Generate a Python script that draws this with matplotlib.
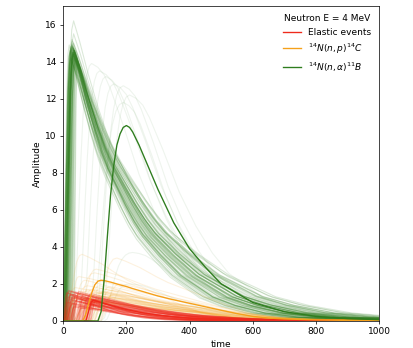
import numpy as np
import matplotlib
matplotlib.use("Agg")
import matplotlib.pyplot as plt

# ---- highlighted pulses ----
green_t = [0, 110, 120, 130, 140, 150, 160, 170, 180, 190, 200, 210, 220, 240, 260, 300, 350, 400, 450, 500, 600, 700, 800, 900, 1000]
green_a = [0, 0, 0.5, 2.3, 4.6, 6.8, 8.4, 9.5, 10.1, 10.45, 10.55, 10.45, 10.2, 9.5, 8.7, 7.1, 5.3, 3.9, 2.9, 2.0, 1.0, 0.5, 0.25, 0.13, 0.07]

orange_t = [0, 62, 70, 80, 90, 100, 110, 120, 130, 150, 180, 200, 220, 260, 300, 340, 380, 420, 460, 500, 550, 600, 650, 700, 800, 900, 1000]
orange_a = [0, 0, 0.3, 0.9, 1.5, 1.95, 2.15, 2.2, 2.18, 2.1, 1.95, 1.86, 1.75, 1.55, 1.35, 1.18, 1.03, 0.88, 0.73, 0.58, 0.4, 0.25, 0.16, 0.11, 0.06, 0.03, 0.02]

red_t = [0, 72, 80, 88, 95, 110, 130, 160, 200, 250, 300, 350, 400, 500, 600, 800, 1000]
red_a = [0, 0, 0.5, 1.0, 1.12, 1.05, 0.95, 0.8, 0.62, 0.45, 0.32, 0.22, 0.15, 0.07, 0.03, 0.01, 0.0]

# ---- pulse shapes (normalised) ----
# slow-rising green pulse (like the highlighted one)
gs_rise_r = [0, 0.11, 0.22, 0.33, 0.44, 0.55, 0.66, 0.77, 0.88, 1.0]
gs_rise_a = [0, 0.05, 0.22, 0.44, 0.64, 0.8, 0.9, 0.96, 0.99, 1.0]
gs_dec_dt = [0, 20, 40, 60, 100, 150, 200, 250, 300, 400, 500, 600, 700, 800]
gs_dec_a = [1.0, 0.985, 0.955, 0.9, 0.76, 0.57, 0.42, 0.3, 0.21, 0.105, 0.055, 0.03, 0.016, 0.008]
# fast-rising green pulse (the main bundle)
gf_rise_r = [0, 0.3, 0.6, 0.8, 1.0]
gf_rise_a = [0, 0.45, 0.85, 0.97, 1.0]
gf_dec_dt = [0, 15, 34, 60, 80, 100, 124, 150, 175, 200, 250, 308, 400, 465, 550, 650, 800, 1000]
gf_dec_a = [1.0, 0.93, 0.83, 0.71, 0.63, 0.565, 0.5, 0.43, 0.37, 0.32, 0.245, 0.17, 0.09, 0.058, 0.03, 0.014, 0.005, 0.0015]

o_rise_r = [0, 0.14, 0.31, 0.48, 0.66, 0.83, 1.0]
o_rise_a = [0, 0.14, 0.41, 0.68, 0.89, 0.98, 1.0]
o_dec_dt = [0, 30, 60, 80, 100, 140, 180, 220, 260, 300, 340, 380, 430, 480, 530, 580, 680, 780, 880]
o_dec_a = [1.0, 0.95, 0.89, 0.85, 0.8, 0.7, 0.61, 0.54, 0.47, 0.4, 0.33, 0.26, 0.18, 0.11, 0.075, 0.05, 0.03, 0.018, 0.01]

r_rise_r = [0, 0.35, 0.7, 1.0]
r_rise_a = [0, 0.44, 0.88, 1.0]
r_dec_dt = [0, 50, 100, 150, 200, 250, 300, 400, 500, 600, 800, 1000]
r_dec_a = [1.0, 0.85, 0.7, 0.55, 0.42, 0.31, 0.22, 0.11, 0.05, 0.025, 0.008, 0.0]

# ---- faint event traces: onset, rise time, peak amplitude, decay stretch ----
gf_onset = [0, 2, 4, 5, 6, 8, 10, 3, 1, 7, 12, 9, 5, 2, 14, 6, 4, 11, 8, 3, 0, 5, 10, 7, 2, 13, 6, 9, 4, 1,
            15, 18, 20, 3, 7, 22, 25, 11, 16, 0, 28, 19, 6, 13, 30, 2, 24, 9, 17, 35, 5, 12, 21, 1, 8, 27, 14, 4, 33, 10]
gf_rise = [22, 25, 20, 28, 24, 26, 22, 30, 18, 25, 20, 27, 23, 21, 24, 26, 29, 22, 25, 19, 27, 24, 23, 26, 21, 25, 28, 20, 24, 22,
           18, 20, 16, 26, 24, 15, 14, 22, 19, 28, 12, 17, 25, 21, 12, 27, 14, 23, 18, 10, 24, 20, 15, 26, 22, 13, 19, 25, 11, 21]
gf_peak = [14.6, 14.8, 14.3, 15.0, 14.5, 14.7, 14.2, 16.2, 14.9, 14.4, 13.8, 14.6, 15.2, 14.7, 14.1, 14.8, 14.5, 14.3, 15.5, 14.6,
           14.9, 14.0, 14.7, 14.4, 14.8, 13.9, 14.6, 14.5, 15.0, 14.2,
           14.5, 14.3, 14.6, 14.8, 14.4, 14.2, 14.5, 14.7, 14.6, 14.9, 14.1, 14.4, 14.8, 14.5, 14.3, 15.1, 14.6, 14.7, 14.4, 14.0,
           14.9, 14.6, 14.3, 14.7, 14.5, 14.2, 14.6, 14.8, 14.1, 14.5]
gf_stretch = [1.2, 1.3, 1.05, 1.45, 1.25, 1.35, 1.1, 1.3, 1.15, 1.5, 1.0, 1.25, 1.55, 1.1, 1.2, 1.3, 1.6, 1.15, 1.4, 1.05,
              1.25, 1.2, 1.45, 1.1, 1.35, 1.0, 1.5, 1.2, 1.3, 1.4,
              1.1, 1.2, 1.25, 1.35, 1.05, 1.15, 1.2, 1.4, 1.1, 1.3, 1.2, 1.15, 1.35, 1.25, 1.05, 1.45, 1.2, 1.3, 1.1, 1.25,
              1.35, 1.1, 1.25, 1.4, 1.2, 1.05, 1.3, 1.5, 1.55, 1.45]

gs_onset = [30, 45, 60, 80, 100, 120, 90, 120, 130]
gs_rise = [60, 70, 75, 80, 90, 90, 100, 100, 80]
gs_peak = [13.9, 13.5, 13.2, 12.8, 12.7, 12.2, 11.8, 3.7, 2.0]
gs_stretch = [1.0, 1.05, 0.95, 1.0, 0.95, 1.05, 0.9, 1.0, 1.0]

o_onset = [0, 5, 10, 15, 20, 30, 40, 50, 60, 70, 80, 90, 100, 110, 120, 8, 25, 45, 65, 85, 35, 55, 75, 95, 12,
           3, 18, 28, 38, 48, 58, 68, 78, 88, 98, 105, 115, 22, 42, 62]
o_rise = [40, 35, 50, 45, 30, 60, 40, 55, 50, 45, 60, 40, 70, 50, 60, 35, 45, 50, 55, 40, 65, 45, 50, 55, 38,
          42, 48, 36, 52, 44, 58, 46, 40, 50, 54, 48, 44, 56, 38, 52]
o_peak = [1.8, 1.2, 3.6, 1.5, 2.4, 1.0, 1.7, 2.8, 1.3, 1.9, 1.1, 1.6, 3.4, 1.4, 2.0, 1.25, 2.2, 1.05, 1.75, 1.35,
          2.6, 1.15, 1.55, 1.85, 1.45, 1.3, 1.6, 1.1, 1.4, 1.7, 1.2, 1.5, 1.35, 1.0, 1.65, 1.25, 1.45, 1.9, 1.15, 1.55]
o_stretch = [0.9, 1.1, 0.8, 1.0, 1.2, 1.3, 0.95, 1.05, 1.1, 0.85, 1.2, 1.0, 0.9, 1.15, 1.0, 1.1, 0.9, 1.25, 1.05, 0.95,
             1.0, 1.1, 1.2, 0.9, 1.05, 0.85, 1.15, 1.0, 1.25, 0.95, 1.1, 0.9, 1.2, 1.05, 1.0, 0.9, 1.1, 1.0, 1.15, 0.95]

r_onset = [0, 3, 5, 8, 10, 12, 15, 18, 20, 25, 28, 30, 35, 40, 45, 50, 55, 60, 65, 70, 75, 80, 85, 2, 6, 14, 22, 33,
           48, 58, 68, 78, 88, 4, 26, 1, 7, 11, 16, 19, 24, 29, 37, 42, 52, 62, 72, 82, 9, 13]
r_rise = [12, 15, 10, 18, 14, 16, 12, 20, 15, 13, 17, 15, 14, 18, 16, 12, 15, 17, 14, 16, 13, 15, 18, 11, 14, 16, 13,
          15, 17, 14, 12, 16, 15, 13, 14, 10, 12, 18, 15, 13, 16, 11, 14, 17, 12, 15, 13, 16, 14, 12]
r_peak = [1.5, 1.6, 1.3, 1.1, 1.45, 0.9, 1.25, 1.55, 0.8, 1.35, 1.0, 1.2, 1.6, 0.7, 1.15, 1.4, 0.95, 1.3, 1.05, 1.5,
          0.85, 1.2, 1.1, 1.0, 1.4, 1.3, 0.75, 1.5, 1.25, 0.9, 1.35, 1.0, 1.2, 1.65, 1.1,
          1.55, 1.2, 0.95, 1.45, 1.3, 1.1, 1.5, 0.8, 1.35, 1.0, 1.25, 0.9, 1.15, 1.4, 1.6]
r_stretch = [1.0, 1.2, 0.9, 1.3, 1.1, 0.8, 1.25, 1.0, 1.2, 0.9, 1.3, 1.1, 1.0, 1.2, 0.85, 1.2, 1.0, 1.1, 1.3, 0.95,
             1.2, 1.05, 1.25, 1.1, 1.0, 1.25, 0.9, 1.15, 1.3, 1.0, 1.2, 1.1, 0.9, 1.3, 1.0,
             0.6, 0.7, 0.75, 0.65, 0.8, 0.7, 0.6, 0.85, 0.7, 0.75, 0.65, 0.8, 0.7, 0.6, 0.75]

RED = "#ee2a1c"
ORANGE = "#f5a01a"
GREEN = "#2e7d1e"


def pulse(t0, rise, peak, stretch, rr, ra, dd, da):
    t = [0, t0] + [t0 + rise * r for r in rr[1:]] + [t0 + rise + stretch * d for d in dd[1:]]
    a = [0, 0] + [peak * x for x in ra[1:]] + [peak * x for x in da[1:]]
    return t, a


fig = plt.figure(figsize=(413 / 65, 348 / 65), dpi=65)
ax = fig.add_axes([0.153, 0.0776, 0.765, 0.905])

for i in range(len(gs_onset)):
    t, a = pulse(gs_onset[i], gs_rise[i], gs_peak[i], gs_stretch[i], gs_rise_r, gs_rise_a, gs_dec_dt, gs_dec_a)
    ax.plot(t, a, color=GREEN, alpha=0.08, lw=1.2)
for i in range(len(gf_onset)):
    t, a = pulse(gf_onset[i], gf_rise[i], gf_peak[i], gf_stretch[i], gf_rise_r, gf_rise_a, gf_dec_dt, gf_dec_a)
    ax.plot(t, a, color=GREEN, alpha=0.17, lw=1.2)
for i in range(len(o_onset)):
    t, a = pulse(o_onset[i], o_rise[i], o_peak[i], o_stretch[i], o_rise_r, o_rise_a, o_dec_dt, o_dec_a)
    ax.plot(t, a, color=ORANGE, alpha=0.14, lw=1.2)
for i in range(len(r_onset)):
    t, a = pulse(r_onset[i], r_rise[i], r_peak[i], r_stretch[i], r_rise_r, r_rise_a, r_dec_dt, r_dec_a)
    ax.plot(t, a, color=RED, alpha=0.28, lw=1.2)

ax.plot(red_t, red_a, color=RED, lw=1.5, label="Elastic events")
ax.plot(orange_t, orange_a, color=ORANGE, lw=1.5, label=r"$^{14}N(n,p)^{14}C$")
ax.plot(green_t, green_a, color=GREEN, lw=1.5, label=r"$^{14}N(n,\alpha)^{11}B$")

ax.set_xlim(0, 1000)
ax.set_ylim(0, 17)
ax.set_yticks(range(0, 17, 2))
ax.set_xlabel("time")
ax.set_ylabel("Amplitude")
ax.legend(title="Neutron E = 4 MeV", loc="upper right", frameon=False)

fig.savefig("out.png", dpi=65)
